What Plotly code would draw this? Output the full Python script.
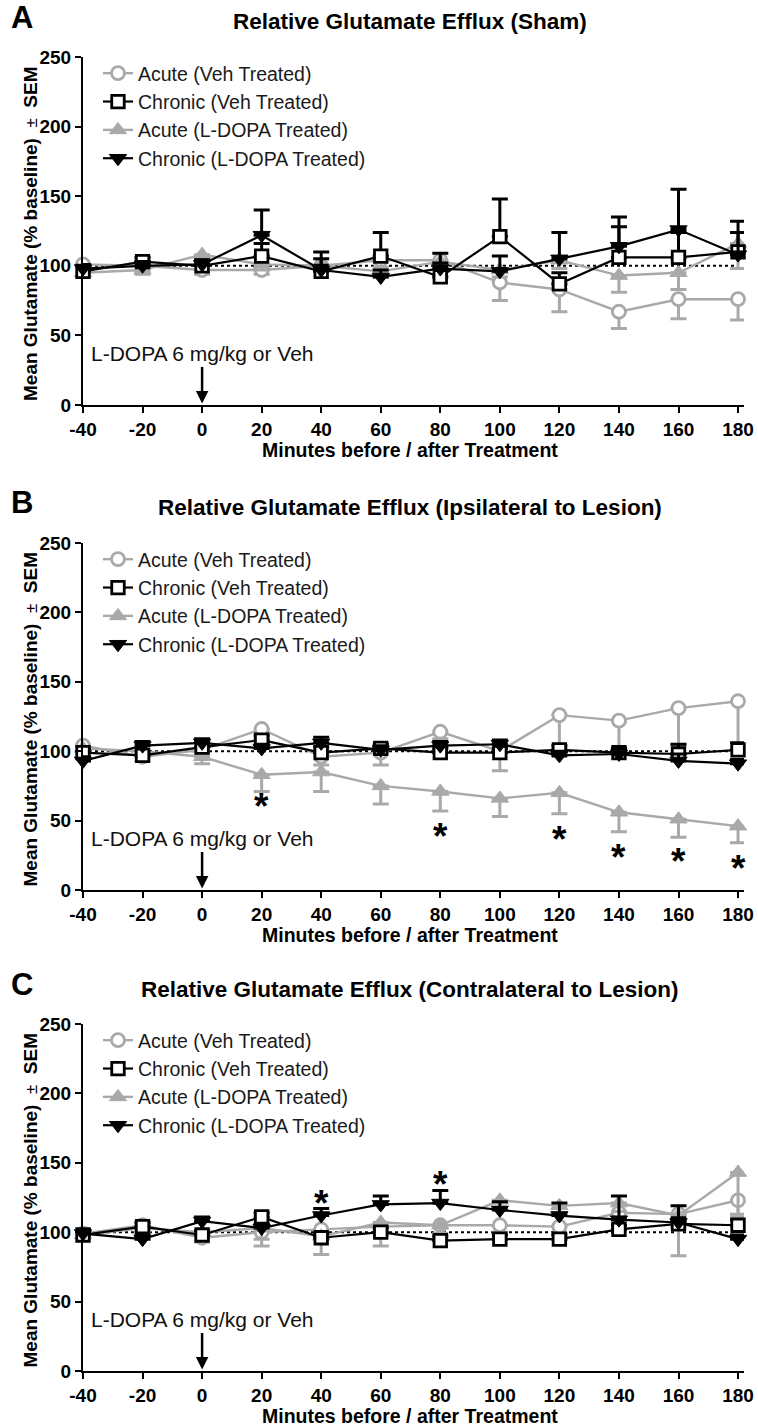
import plotly.graph_objects as go

W, H = 758, 1426
FONT = "Arial, 'Liberation Sans', sans-serif"
GRAY = "#a9a9a9"
BLACK = "#000000"

minutes = [-40, -20, 0, 20, 40, 60, 80, 100, 120, 140, 160, 180]
x_ticks = [-40, -20, 0, 20, 40, 60, 80, 100, 120, 140, 160, 180]
y_ticks = [0, 50, 100, 150, 200, 250]
baseline = 100

series_names = ["Acute (Veh Treated)", "Chronic (Veh Treated)",
                "Acute (L-DOPA Treated)", "Chronic (L-DOPA Treated)"]
panel_letters = ["A", "B", "C"]
panel_titles = ["Relative Glutamate Efflux (Sham)",
                "Relative Glutamate Efflux (Ipsilateral to Lesion)",
                "Relative Glutamate Efflux (Contralateral to Lesion)"]
x_title = "Minutes before / after Treatment"
treatment_label = "L-DOPA 6 mg/kg or Veh"

# ---------------- Panel A (Sham) ----------------
a_acute_veh = [101, 100, 97, 97, 100, 104, 104, 88, 83, 67, 76, 76]
a_acute_veh_sem = [3, 3, 3, 3, 4, 5, 5, 13, 16, 12, 14, 15]
a_chronic_veh = [96, 103, 100, 107, 96, 107, 92, 121, 87, 106, 106, 110]
a_chronic_veh_sem = [3, 3, 4, 9, 9, 17, 10, 27, 8, 22, 18, 14]
a_acute_ldopa = [95, 97, 108, 101, 100, 96, 103, 97, 104, 93, 95, 116]
a_acute_ldopa_sem = [3, 3, 3, 4, 4, 4, 4, 5, 6, 12, 12, 18]
a_chronic_ldopa = [98, 100, 101, 122, 97, 92, 98, 96, 105, 114, 126, 108]
a_chronic_ldopa_sem = [3, 3, 3, 18, 13, 5, 11, 11, 19, 21, 29, 24]
a_star_x = []
a_star_y = []

# ---------------- Panel B (Ipsilateral) ----------------
b_acute_veh = [104, 96, 101, 116, 96, 99, 114, 100, 126, 122, 131, 136]
b_acute_veh_sem = [3, 3, 3, 4, 6, 9, 5, 14, 27, 22, 27, 33]
b_chronic_veh = [99, 97, 103, 108, 99, 102, 99, 99, 101, 99, 98, 101]
b_chronic_veh_sem = [3, 3, 4, 3, 4, 3, 3, 3, 3, 3, 7, 5]
b_acute_ldopa = [102, 100, 96, 83, 85, 75, 71, 66, 70, 56, 51, 46]
b_acute_ldopa_sem = [3, 3, 5, 12, 14, 13, 14, 13, 15, 14, 13, 12]
b_chronic_ldopa = [93, 104, 106, 102, 106, 101, 104, 105, 97, 98, 93, 91]
b_chronic_ldopa_sem = [3, 3, 3, 3, 4, 3, 3, 3, 3, 4, 5, 3]
b_star_x = [20, 80, 120, 140, 160, 180]
b_star_y = [67, 45, 43, 30, 27, 22]

# ---------------- Panel C (Contralateral) ----------------
c_acute_veh = [99, 105, 96, 100, 102, 104, 105, 105, 104, 114, 113, 123]
c_acute_veh_sem = [3, 3, 3, 5, 6, 6, 6, 5, 5, 6, 9, 12]
c_chronic_veh = [98, 104, 98, 111, 96, 100, 94, 95, 95, 102, 106, 105]
c_chronic_veh_sem = [3, 3, 3, 3, 3, 3, 3, 3, 3, 3, 3, 4]
c_acute_ldopa = [98, 103, 100, 103, 97, 107, 105, 123, 119, 121, 112, 143]
c_acute_ldopa_sem = [3, 3, 4, 13, 13, 17, 10, 5, 5, 6, 29, 30]
c_chronic_ldopa = [99, 95, 108, 103, 112, 120, 121, 116, 112, 109, 107, 95]
c_chronic_ldopa_sem = [3, 3, 3, 3, 5, 6, 9, 6, 9, 17, 12, 3]
c_star_x = [40, 80]
c_star_y = [127, 141]

panels = [
    dict(av=a_acute_veh, avs=a_acute_veh_sem, cv=a_chronic_veh, cvs=a_chronic_veh_sem,
         al=a_acute_ldopa, als=a_acute_ldopa_sem, cl=a_chronic_ldopa, cls=a_chronic_ldopa_sem,
         sx=a_star_x, sy=a_star_y),
    dict(av=b_acute_veh, avs=b_acute_veh_sem, cv=b_chronic_veh, cvs=b_chronic_veh_sem,
         al=b_acute_ldopa, als=b_acute_ldopa_sem, cl=b_chronic_ldopa, cls=b_chronic_ldopa_sem,
         sx=b_star_x, sy=b_star_y),
    dict(av=c_acute_veh, avs=c_acute_veh_sem, cv=c_chronic_veh, cvs=c_chronic_veh_sem,
         al=c_acute_ldopa, als=c_acute_ldopa_sem, cl=c_chronic_ldopa, cls=c_chronic_ldopa_sem,
         sx=c_star_x, sy=c_star_y),
]

# pixel layout helpers (margins are fixed at 0, so paper == page)
def px(x):
    return x / W

def py(y):
    return 1 - y / H

X_LEFT, X_RIGHT = 83, 744
panel_top = [57, 543, 1024]
panel_bot = [405, 890, 1371]

fig = go.Figure()
layout = dict(
    width=W, height=H, autosize=False,
    margin=dict(l=0, r=0, t=0, b=0, pad=0, autoexpand=False),
    paper_bgcolor="white", plot_bgcolor="white",
    font=dict(family=FONT, color=BLACK),
    showlegend=True,
    annotations=[], shapes=[],
)

zero_sem = [0] * len(minutes)
ERR_W = 8
for i, p in enumerate(panels):
    sfx = "" if i == 0 else str(i + 1)
    xa, ya = "x" + sfx, "y" + sfx
    leg = "legend" + sfx
    common = dict(xaxis=xa, yaxis=ya, legend=leg, cliponaxis=False, mode="lines+markers")
    # acute veh (gray open circle, error below)
    fig.add_trace(go.Scatter(
        x=minutes, y=p["av"], name=series_names[0], legendrank=1,
        line=dict(color=GRAY, width=2.4),
        marker=dict(symbol="circle", size=13, color="white", line=dict(color=GRAY, width=2.8)),
        error_y=dict(type="data", symmetric=False, array=zero_sem, arrayminus=p["avs"],
                     color=GRAY, thickness=3, width=ERR_W),
        **common))
    # acute L-DOPA (gray filled triangle up, error below)
    fig.add_trace(go.Scatter(
        x=minutes, y=p["al"], name=series_names[2], legendrank=3,
        line=dict(color=GRAY, width=2.4),
        marker=dict(symbol="triangle-up", size=15, color=GRAY, line=dict(color=GRAY, width=1)),
        error_y=dict(type="data", symmetric=False, array=zero_sem, arrayminus=p["als"],
                     color=GRAY, thickness=3, width=ERR_W),
        **common))
    # chronic veh (black open square, error above)
    fig.add_trace(go.Scatter(
        x=minutes, y=p["cv"], name=series_names[1], legendrank=2,
        line=dict(color=BLACK, width=2.2),
        marker=dict(symbol="square", size=12.5, color="white", line=dict(color=BLACK, width=2.8)),
        error_y=dict(type="data", symmetric=False, array=p["cvs"], arrayminus=zero_sem,
                     color=BLACK, thickness=3, width=ERR_W),
        **common))
    # chronic L-DOPA (black filled triangle down, error above)
    fig.add_trace(go.Scatter(
        x=minutes, y=p["cl"], name=series_names[3], legendrank=4,
        line=dict(color=BLACK, width=2.2),
        marker=dict(symbol="triangle-down", size=15, color=BLACK, line=dict(color=BLACK, width=1)),
        error_y=dict(type="data", symmetric=False, array=p["cls"], arrayminus=zero_sem,
                     color=BLACK, thickness=3, width=ERR_W),
        **common))

    top, bot = panel_top[i], panel_bot[i]
    layout["xaxis" + sfx] = dict(
        domain=[px(X_LEFT), px(X_RIGHT)], range=[-40, 182], anchor=ya,
        tickmode="array", tickvals=x_ticks, ticktext=[str(v) for v in x_ticks],
        showline=True, linecolor=BLACK, linewidth=2, ticks="outside", ticklen=6,
        tickwidth=2, tickcolor=BLACK, showgrid=False, zeroline=False,
        tickfont=dict(family=FONT, size=19, color=BLACK, weight="bold"),
    )
    layout["yaxis" + sfx] = dict(
        domain=[py(bot), py(top)], range=[0, 250], anchor=xa,
        tickmode="array", tickvals=y_ticks, ticktext=[str(v) for v in y_ticks],
        showline=True, linecolor=BLACK, linewidth=2, ticks="outside", ticklen=6,
        tickwidth=2, tickcolor=BLACK, showgrid=False, zeroline=False,
        tickfont=dict(family=FONT, size=19, color=BLACK, weight="bold"),
    )
    layout[leg] = dict(
        x=px(98), y=py(top - 3), xanchor="left", yanchor="top",
        bgcolor="rgba(0,0,0,0)", borderwidth=0,
        font=dict(family=FONT, size=19.5, color="#1a1a1a"),
        tracegroupgap=0, itemwidth=30,
    )
    # baseline dotted line
    layout["shapes"].append(dict(
        type="line", xref=xa, yref=ya, x0=minutes[0], x1=minutes[-1], y0=baseline, y1=baseline,
        line=dict(color=BLACK, width=2, dash="dot"), layer="below"))
    # panel letter and title
    layout["annotations"].append(dict(
        text="<b>%s</b>" % panel_letters[i], xref="paper", yref="paper",
        x=px(9), y=py(top - 40), xanchor="left", yanchor="middle", showarrow=False,
        font=dict(family=FONT, size=31, color=BLACK)))
    layout["annotations"].append(dict(
        text="<b>%s</b>" % panel_titles[i], xref="paper", yref="paper",
        x=px(410), y=py(top - 35), xanchor="center", yanchor="middle", showarrow=False,
        font=dict(family=FONT, size=22.5, color=BLACK)))
    # axis titles
    layout["annotations"].append(dict(
        text="<b>%s</b>" % x_title, xref="paper", yref="paper",
        x=px(410), y=py(bot + 45), xanchor="center", yanchor="middle", showarrow=False,
        font=dict(family=FONT, size=19.5, color=BLACK)))
    layout["annotations"].append(dict(
        text="<b>Mean Glutamate (% baseline)</b>  <span style='font-size:17px'>±</span>  <b>SEM</b>",
        xref="paper", yref="paper", x=px(30), y=py((top + bot) / 2 + 3),
        xanchor="center", yanchor="middle", textangle=-90, showarrow=False,
        font=dict(family=FONT, size=19, color=BLACK)))
    # treatment label and arrow
    layout["annotations"].append(dict(
        text=treatment_label, xref=xa, yref=ya, x=0, y=37, xanchor="center", yanchor="middle",
        showarrow=False, font=dict(family=FONT, size=21, color="#111111")))
    layout["annotations"].append(dict(
        text="", xref=xa, yref=ya, x=0, y=1, ax=0, ay=-38, showarrow=True,
        arrowhead=2, arrowsize=1, arrowwidth=2.5, arrowcolor=BLACK, standoff=0))
    # significance stars
    for sx, sy in zip(p["sx"], p["sy"]):
        layout["annotations"].append(dict(
            text="<b>*</b>", xref=xa, yref=ya, x=sx, y=sy, xanchor="center", yanchor="middle",
            yshift=-9, showarrow=False, font=dict(family=FONT, size=37, color=BLACK)))

fig.update_layout(**layout)
fig.write_html("out.html")
